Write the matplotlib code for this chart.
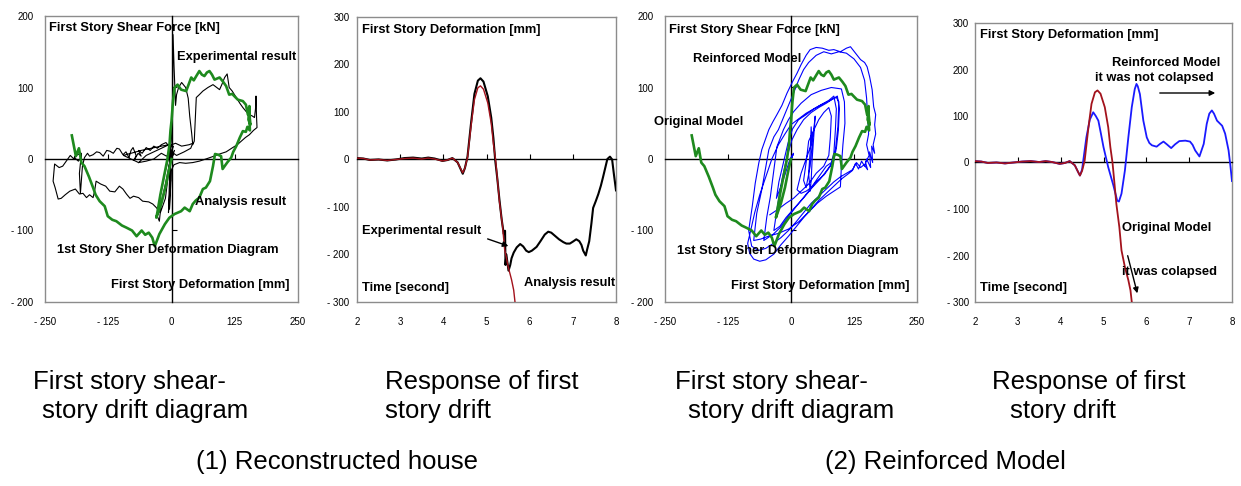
import matplotlib
matplotlib.use('Agg')
import matplotlib.pyplot as plt

W, H = 1241, 486
plt.rcParams['font.family'] = ['Liberation Sans', 'DejaVu Sans']

# ---------------- data ----------------
# Panel 1 / 3 : analysis result (original model), deformation [mm] vs shear [kN]
green_x = [0, -5, -12, -20, -30, -28, -22, -15, -8, -4, -2, 0, 3, 6, 12, 19, 29, 39, 44, 49, 55, 60, 65, 70, 75,
           80, 85, 95, 102, 108, 114, 120, 124, 131, 141, 147, 151, 154, 152, 156, 153, 155, 150, 147, 141, 135,
           128, 122, 118, 110, 101, 98, 92, 86, 82, 76, 68, 62, 55, 48, 42, 36, 30, 26, 19, 6, -4, -13, -24, -33,
           -38, -45, -52, -59, -64, -69, -78, -89, -98, -109, -117, -126, -132, -142, -150, -155, -163, -172,
           -178, -183, -189, -197]
green_y = [0, -15, -40, -62, -82, -75, -50, -25, 0, 20, 40, 53, 81, 100, 104, 97, 95, 114, 110, 116, 123, 118,
           116, 121, 123, 118, 111, 114, 108, 102, 90, 91, 88, 83, 81, 76, 62, 74, 55, 48, 70, 40, 45, 38, 39, 30,
           18, 10, 2, -5, -14, 4, 6, 7, -10, -31, -40, -42, -54, -58, -63, -73, -70, -68, -73, -77, -82, -91,
           -105, -122, -110, -103, -106, -100, -104, -108, -100, -96, -93, -87, -85, -80, -66, -59, -50, -40, -25,
           -10, -5, 15, 4, 33]

# Panel 1 : experimental result
exp_x = [0, 4, -3, 6, -2, 3, -5, -12, -20, -24, -28, -22, -15, -8, -2, 0, 2, 3, 5, 8, 10, 14, 20, 28, 33, 36,
         40, 42, 45, 47, 49, 55, 62, 72, 82, 95, 100, 105, 110, 114, 120, 128, 135, 141, 148, 154, 160, 164, 166,
         167, 168, 169, 162, 154, 146, 138, 130, 121, 108, 95, 80, 68, 55, 42, 28, 16, 5, 0, -3, -6, -4, -2,
         -6, -12, -22, -30, -37, -45, -57, -65, -75, -82, -89, -96, -103, -112, -122, -130, -140, -149, -152,
         -155, -162, -168, -175, -182, -190, -201, -210, -218, -224, -230, -234, -231, -222, -215, -208, -200,
         -193, -188, -182, -178, -184, -192, -186, -178, -182, -180, -176, -172, -166, -162, -155, -148, -142,
         -135, -128, -122, -115, -108, -103, -96, -90, -84, -80, -76, -70, -74, -66, -60, -65, -58, -50, -42,
         -35, -28, -20, -11, -5, -1, -4, -2, 0, 8, 20, 35, 42, 38, 25, 10, 0, -10, -20, -35, -50, -65, -80,
         -95, -80, -60, -40, -20, -5, -35, -50, -65]
exp_y = [0, 8, -4, 12, 3, 18, -10, -35, -60, -87, -80, -50, -25, -5, 10, 30, 80, 174, 130, 75, 90, 100, 107,
         100, 85, 60, 35, 20, 25, 55, 86, 90, 95, 100, 104, 97, 105, 114, 119, 100, 95, 86, 78, 72, 66, 62, 60,
         58, 70, 88, 60, 44, 40, 34, 30, 25, 20, 16, 10, 7, 3, 0, -3, -5, -6, -5, -8, -15, -40, -75, -30, 10,
         -20, -55, -75, -68, -63, -60, -59, -54, -52, -55, -49, -42, -38, -46, -45, -38, -35, -31, -45, -54,
         -50, -54, -48, -49, -42, -45, -50, -55, -56, -40, -31, -7, -12, -10, -3, 5, 0, 8, 10, 3, -3, 2, 6, 8,
         -20, -48, -10, 2, 8, 4, 6, 10, 9, 4, 12, 11, 8, 15, 14, 6, 10, 2, 12, 16, 5, -2, 8, 4, 12, 8, 16, 12,
         18, 15, 20, 23, 18, -30, -70, 15, 20, 22, 18, 20, 22, 15, 10, 5, 10, 4, 8, 0, -3, -5, 0, 5, 8, 12, 15,
         18, 20, 10, 5, -5]

# Panel 3 : reinforced model
blue_x = [0, 4, -3, 5, -2, -12, -22, -29, -24, -15, -6, 3, 15, 30, 45, 60, 72, 83, 90, 95, 93, 88, 80, 66, 50,
          35, 20, 5, -10, -22, -34,
          -28, -18, -8, 2, 12, 25, 40, 55, 70, 85, 92, 96, 94, 90, 85, 72, 58, 42, 28, 12, -5, -20, -35, -54,
          -48, -41, -34, -28, -20, -15, -5, 5, 20, 40, 60, 80, 100, 106, 107, 103, 100, 98, 85, 70, 52, 34, 15,
          -5, -25, -45, -60, -74,
          -68, -58, -51, -44, -34, -25, -15, -5, 5, 15, 25, 35, 50, 65, 80, 95, 110, 125, 138, 146, 150, 152,
          154, 150, 155, 148, 152, 145, 138, 130, 122, 110, 98, 85, 70, 55, 40, 25, 10, -5, -20, -35, -50, -65,
          -78, -84,
          -77, -71, -64, -58, -51, -44, -36, -28, -18, -8, 3, 12, 20, 30, 38, 50, 62, 75, 85, 98, 110, 118, 128,
          138, 146, 151, 156, 161, 164, 168, 166, 168, 163, 166, 160, 162, 156, 158, 150, 146, 140, 134, 128,
          122, 115, 100, 85, 70, 55, 40, 25, 10, -5, -20, -34, -50, -62, -74, -82, -86,
          -80, -72, -62, -50, -38, -25, -12, 0, 15, 30, 45, 60, 75, 85, 90, 88, 85, 80, 70, 60, 50, 40, 30, 20,
          12, 20, 30, 40, 45, 48, 45, 42, 40, 38, 35, 38, 40, 42, 38, 30, 25, 30, 35, 45, 55, 65, 75, 80, 78, 75,
          65, 50, 35, 20, 5, -10, -25, -42]
blue_y = [0, 6, -5, 8, 0, -22, -42, -55, -32, -5, 22, 42, 55, 62, 70, 76, 80, 84, 86, 80, 45, 12, -8, -22, -32,
          -45, -58, -70, -82, -94, -100,
          -71, -29, 3, 27, 41, 55, 65, 72, 78, 85, 88, 70, 40, 15, -2, -15, -28, -40, -52, -65, -80, -95, -105,
          -114,
          -81, -53, -15, 17, 32, 41, 55, 66, 78, 90, 96, 100, 98, 80, 50, 20, -10, -39, -45, -52, -62, -75, -88,
          -98, -104, -108, -112, -114,
          -76, -43, -15, 13, 31, 41, 58, 75, 92, 110, 125, 135, 145, 150, 147, 150, 148, 140, 128, 110, 85, 60,
          35, 20, 5, -5, -15, -8, -12, -5, -15, -20, -25, -32, -42, -52, -62, -75, -88, -100, -110, -118, -125,
          -128, -122, -100,
          -67, -34, -6, 13, 27, 41, 52, 62, 75, 92, 108, 120, 132, 145, 153, 156, 155, 152, 153, 150, 155, 157,
          148, 139, 135, 129, 115, 97, 73, 62, 48, 35, 20, 8, 18, -5, 10, -12, 0, -10, -3, -14, -6, -16, -20,
          -28, -38, -48, -58, -70, -82, -95, -108, -120, -133, -141, -143, -140, -132, -118,
          -100, -75, -50, -25, 0, 20, 35, 48, 56, 64, 70, 76, 82, 88, 70, 40, 8, -5, -10, -20, -30, -40, -45,
          -48, -43, -20, 0, 20, 40, 60, 30, 0, -30, -45, -20, 10, 45, 20, -10, -40, -30, -5, 25, 40, 55, 65, 72,
          60, 30, 5, -10, -20, -35, -45, -55, -62, -70, -78]

# Panel 2 / 4 : time histories, time [s] vs deformation [mm]
red_t = [2.0, 2.15, 2.3, 2.5, 2.7, 2.9, 3.1, 3.3, 3.5, 3.65, 3.8, 3.98, 4.1, 4.21, 4.33, 4.41, 4.45, 4.5, 4.56,
         4.64, 4.72, 4.8, 4.86, 4.93, 5.03, 5.11, 5.16, 5.21, 5.25, 5.30, 5.37, 5.42, 5.50, 5.58, 5.63, 5.66]
red_y = [3, 2, -1, 0, -2, 0, 2, 3, 1, 3, 1, -3, -1, 3, -6, -21, -28, -18, 4, 69, 126, 151, 155, 148, 119, 76, 33,
         0, -39, -89, -139, -189, -225, -253, -275, -300]

exp_t = [2.0, 2.15, 2.3, 2.5, 2.7, 2.9, 3.1, 3.3, 3.5, 3.65, 3.8, 3.98, 4.1, 4.21, 4.33, 4.41, 4.45, 4.5, 4.56,
         4.64, 4.72, 4.8, 4.86, 4.93, 5.03, 5.11, 5.16, 5.20, 5.25, 5.30, 5.35, 5.40, 5.43, 5.44, 5.46, 5.51,
         5.55, 5.58, 5.63, 5.70, 5.78, 5.85, 5.92, 5.98, 6.05, 6.16, 6.25, 6.35, 6.43, 6.50, 6.59, 6.68, 6.78,
         6.85, 6.93, 7.0, 7.08, 7.15, 7.20, 7.24, 7.30, 7.33, 7.38, 7.43, 7.47, 7.53, 7.59, 7.65, 7.70, 7.75,
         7.80, 7.86, 7.91, 7.95, 8.0]
exp_d = [3, 2, -1, 0, -2, 0, 3, 4, 2, 4, 2, -3, -1, 3, -6, -22, -30, -18, 6, 75, 138, 166, 171, 164, 133, 88,
         45, 0, -40, -85, -125, -157, -150, -222, -200, -234, -222, -208, -196, -185, -178, -183, -192, -195,
         -192, -184, -172, -158, -152, -154, -161, -168, -174, -177, -177, -173, -168, -172, -180, -192, -202,
         -190, -172, -135, -102, -88, -73, -55, -37, -18, 1, 6, 0, -30, -65]

blue_t = [2.0, 2.15, 2.3, 2.5, 2.7, 2.9, 3.1, 3.3, 3.5, 3.65, 3.8, 3.98, 4.1, 4.21, 4.33, 4.41, 4.45, 4.5, 4.60,
          4.68, 4.76, 4.82, 4.88, 4.94, 5.0, 5.11, 5.23, 5.32, 5.36, 5.42, 5.50, 5.58, 5.66, 5.73, 5.77, 5.80,
          5.85, 5.93, 6.01, 6.07, 6.13, 6.24, 6.32, 6.40, 6.48, 6.58, 6.67, 6.77, 6.91, 7.02, 7.08, 7.14, 7.24,
          7.34, 7.41, 7.47, 7.53, 7.58, 7.65, 7.77, 7.84, 7.92, 7.96, 8.0]
blue_d = [3, 2, -1, 0, -2, 0, 2, 3, 1, 3, 1, -3, -1, 3, -6, -21, -28, -15, 54, 92, 108, 100, 90, 62, 33, -10,
          -49, -82, -84, -67, -17, 54, 119, 158, 169, 164, 147, 90, 54, 42, 37, 34, 40, 45, 39, 31, 39, 46, 47,
          45, 38, 26, 13, 40, 83, 105, 112, 105, 90, 79, 62, 26, -5, -40]

hyst_xticks = [-250, -125, 0, 125, 250]
hyst_xlabels = ['- 250', '- 125', '0', '125', '250']
hyst_yticks = [-200, -100, 0, 100, 200]
hyst_ylabels = ['- 200', '- 100', '0', '100', '200']
time_xticks = [2, 3, 4, 5, 6, 7, 8]
time_xlabels = ['2', '3', '4', '5', '6', '7', '8']
time_yticks = [-300, -200, -100, 0, 100, 200, 300]
time_ylabels = ['- 300', '- 200', '- 100', '0', '100', '200', '300']

# ---------------- figure ----------------
fig = plt.figure(figsize=(W / 100, H / 100), dpi=100)


def rect(l, t, r, b):
    return [l / W, 1 - b / H, (r - l) / W, (b - t) / H]


def panel(box, xlim, ylim, xt, xl, yt, yl, ypad, hyst):
    ax = fig.add_axes(rect(*box))
    ax.set_xlim(xlim)
    ax.set_ylim(ylim)
    ax.set_xticks(xt, xl)
    ax.set_yticks(yt, yl)
    ax.tick_params(length=0, labelsize=7, colors='black')
    ax.tick_params(axis='x', pad=11)
    ax.tick_params(axis='y', pad=ypad)
    for s in ax.spines.values():
        s.set_color('#8c8c8c')
        s.set_linewidth(1.0)
    ov = fig.add_axes(rect(*box))
    ov.set_xlim(xlim)
    ov.set_ylim(ylim)
    ov.patch.set_visible(False)
    ov.spines['top'].set_visible(False)
    ov.spines['right'].set_visible(False)
    ov.spines['bottom'].set_position(('data', 0))
    ov.spines['bottom'].set_color('black')
    ov.spines['bottom'].set_linewidth(1.0)
    if hyst:
        ov.spines['left'].set_position(('data', 0))
        ov.spines['left'].set_color('black')
        ov.spines['left'].set_linewidth(1.0)
        ov.set_xticks([-125, 125])
        ov.set_yticks([-100, 100])
    else:
        ov.spines['left'].set_visible(False)
        ov.set_xticks([3, 4, 5, 6, 7])
        ov.set_yticks([])
    ov.tick_params(direction='in', length=3.5, width=0.8, labelbottom=False, labelleft=False)
    return ov


ax1 = panel((45, 16, 298, 302), (-250, 250), (-200, 200), hyst_xticks, hyst_xlabels,
            hyst_yticks, hyst_ylabels, 8.5, True)
ax1.plot(exp_x, exp_y, color='black', lw=0.8, zorder=3)
ax1.plot(green_x, green_y, color='#1e8a1e', lw=1.9, zorder=4)

ax2 = panel((357, 17, 616, 302), (2, 8), (-300, 300), time_xticks, time_xlabels,
            time_yticks, time_ylabels, 5.5, False)
ax2.plot(exp_t, exp_d, color='black', lw=1.5, zorder=3)
ax2.plot(red_t, red_y, color='#a3121c', lw=1.0, zorder=4)

ax3 = panel((665, 16, 917, 302), (-250, 250), (-200, 200), hyst_xticks, hyst_xlabels,
            hyst_yticks, hyst_ylabels, 8.5, True)
ax3.plot(blue_x, blue_y, color='#0000ff', lw=0.8, zorder=3)
ax3.plot(green_x, green_y, color='#1e8a1e', lw=1.9, zorder=4)

ax4 = panel((975, 23, 1232, 302), (2, 8), (-300, 300), time_xticks, time_xlabels,
            time_yticks, time_ylabels, 4.5, False)
ax4.plot(blue_t, blue_d, color='#1a1aff', lw=1.3, zorder=3)
ax4.plot(red_t, red_y, color='#a3121c', lw=1.3, zorder=4)


def label(x, y, s, size=9.3, bold=True, ha='left'):
    fig.text(x / W, 1 - y / H, s, ha=ha, va='center', fontsize=size,
             fontweight='bold' if bold else 'normal', color='black')


def arrow(x1, y1, x2, y2):
    fig.add_artist(matplotlib.patches.FancyArrowPatch(
        (x1 / W, 1 - y1 / H), (x2 / W, 1 - y2 / H), transform=fig.transFigure,
        arrowstyle='-|>', mutation_scale=8, color='black', lw=1.0))


# panel 1 labels
label(49, 28, 'First Story Shear Force [kN]')
label(177, 57, 'Experimental result')
label(195, 202, 'Analysis result')
label(57, 250, '1st Story Sher Deformation Diagram')
label(111, 285, 'First Story Deformation [mm]')
# panel 2 labels
label(362, 30, 'First Story Deformation [mm]')
label(362, 231, 'Experimental result')
label(524, 283, 'Analysis result')
label(362, 288, 'Time [second]')
arrow(485, 238, 511, 247)
# panel 3 labels
label(669, 30, 'First Story Shear Force [kN]')
label(693, 59, 'Reinforced Model')
label(654, 122, 'Original Model')
label(677, 251, '1st Story Sher Deformation Diagram')
label(731, 286, 'First Story Deformation [mm]')
# panel 4 labels
label(980, 35, 'First Story Deformation [mm]')
label(1112, 63, 'Reinforced Model')
label(1095, 78, 'it was not colapsed')
label(1122, 228, 'Original Model')
label(1122, 272, 'it was colapsed')
label(980, 288, 'Time [second]')
arrow(1157, 93, 1218, 93)
arrow(1127, 253, 1138, 296)

# captions
cs = 18.5
label(33, 382, 'First story shear-', cs, False)
label(42, 411, 'story drift diagram', cs, False)
label(385, 382, 'Response of first', cs, False)
label(385, 411, 'story drift', cs, False)
label(337, 462, '(1) Reconstructed house', cs, False, 'center')
label(675, 382, 'First story shear-', cs, False)
label(688, 411, 'story drift diagram', cs, False)
label(992, 382, 'Response of first', cs, False)
label(1010, 411, 'story drift', cs, False)
label(945, 462, '(2) Reinforced Model', cs, False, 'center')

fig.savefig('out.png', dpi=100)
